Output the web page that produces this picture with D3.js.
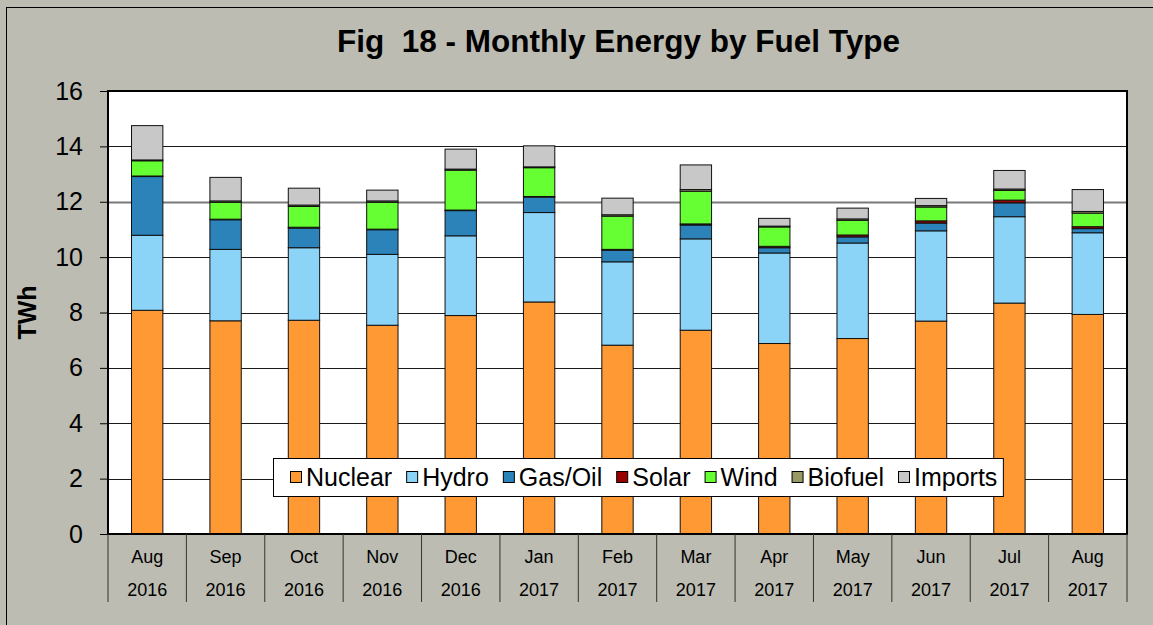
<!DOCTYPE html>
<html>
<head>
<meta charset="utf-8">
<script src="https://cdn.jsdelivr.net/npm/d3@7"></script>
<style>
  body { margin: 0; background: #bcbcb2; }
  svg { display: block; font-family: Arial, "Liberation Sans", sans-serif; }
</style>
</head>
<body>
<svg width="1153" height="625"></svg>
<script>
// Data (TWh)
const months = ["Aug", "Sep", "Oct", "Nov", "Dec", "Jan", "Feb", "Mar", "Apr", "May", "Jun", "Jul", "Aug"];
const years = ["2016", "2016", "2016", "2016", "2016", "2017", "2017", "2017", "2017", "2017", "2017", "2017", "2017"];
const nuclear = [8.08, 7.70, 7.72, 7.54, 7.89, 8.38, 6.82, 7.36, 6.88, 7.06, 7.69, 8.34, 7.93];
const hydro = [2.71, 2.58, 2.62, 2.56, 2.88, 3.23, 3.01, 3.30, 3.27, 3.45, 3.26, 3.12, 2.95];
const gasOil = [2.12, 1.07, 0.71, 0.89, 0.91, 0.56, 0.42, 0.50, 0.19, 0.22, 0.28, 0.50, 0.15];
const solar = [0.02, 0.02, 0.03, 0.02, 0.02, 0.02, 0.03, 0.04, 0.05, 0.07, 0.08, 0.10, 0.07];
const wind = [0.55, 0.61, 0.75, 0.97, 1.44, 1.04, 1.20, 1.18, 0.70, 0.53, 0.50, 0.35, 0.49];
const biofuel = [0.03, 0.05, 0.05, 0.05, 0.04, 0.03, 0.05, 0.06, 0.03, 0.05, 0.05, 0.05, 0.06];
const imports = [1.24, 0.85, 0.61, 0.39, 0.72, 0.76, 0.60, 0.89, 0.28, 0.39, 0.26, 0.67, 0.79];
const yTicks = [0, 2, 4, 6, 8, 10, 12, 14, 16];

const seriesNames = ["Nuclear", "Hydro", "Gas/Oil", "Solar", "Wind", "Biofuel", "Imports"];
const seriesValues = [nuclear, hydro, gasOil, solar, wind, biofuel, imports];
const colors = ["#ff9933", "#8cd3f8", "#2b83ba", "#990000", "#66ff33", "#999966", "#c8c8c8"];

// build rows for d3.stack
const rows = months.map((m, i) => {
    const r = { key: i };
    seriesNames.forEach((s, j) => r[s] = seriesValues[j][i]);
    return r;
});

const svg = d3.select("svg");
const pLeft = 108, pRight = 1127, pTop = 91, pBottom = 534;

// outer frame
svg.append("rect").attr("x", 6.5).attr("y", 7.5).attr("width", 1300).attr("height", 800)
    .attr("fill", "#bcbcb2").attr("stroke", "#000").attr("stroke-width", 1);

// plot area
svg.append("rect").attr("x", pLeft).attr("y", pTop).attr("width", pRight - pLeft).attr("height", pBottom - pTop)
    .attr("fill", "#fff");

const x = d3.scaleBand().domain(d3.range(months.length)).range([pLeft, pRight]).padding(0);
const y = d3.scaleLinear().domain([0, 16]).range([pBottom, pTop]);

// gridlines
svg.append("g").selectAll("line")
    .data(yTicks.filter(t => t > 0 && t < 16))
    .enter().append("line")
    .attr("x1", pLeft).attr("x2", pRight)
    .attr("y1", d => Math.round(y(d)) + 0.5).attr("y2", d => Math.round(y(d)) + 0.5)
    .attr("stroke", d => d === 12 ? "#7a7a7a" : "#1a1a1a")
    .attr("stroke-width", d => d === 12 ? 2 : 1);

// stacked bars
const stack = d3.stack().keys(seriesNames)(rows);
const barW = x.bandwidth() * 0.4;
svg.append("g").selectAll("g")
    .data(stack)
    .enter().append("g")
    .attr("fill", (d, i) => colors[i])
    .selectAll("rect")
    .data(d => d)
    .enter().append("rect")
    .attr("x", (d, i) => x(i) + (x.bandwidth() - barW) / 2)
    .attr("y", d => y(d[1]))
    .attr("width", barW)
    .attr("height", d => y(d[0]) - y(d[1]))
    .attr("stroke", "#111")
    .attr("stroke-width", 1);

// plot border
svg.append("rect").attr("x", pLeft).attr("y", pTop).attr("width", pRight - pLeft).attr("height", pBottom - pTop)
    .attr("fill", "none").attr("stroke", "#000").attr("stroke-width", 2);

// y axis
const yAxis = svg.append("g")
    .attr("transform", `translate(${pLeft},0)`)
    .call(d3.axisLeft(y).tickValues(yTicks).tickSize(8).tickPadding(17));
yAxis.select(".domain").remove();
yAxis.selectAll("line").attr("stroke", "#000");
yAxis.selectAll("text").attr("font-size", 25).attr("fill", "#000")
    .attr("font-family", "Arial, 'Liberation Sans', sans-serif");

// y title
svg.append("text")
    .attr("transform", `translate(36,${(pTop + pBottom) / 2}) rotate(-90)`)
    .attr("text-anchor", "middle")
    .attr("font-size", 25).attr("font-weight", "bold")
    .text("TWh");

// category axis: separators and two-level labels
const cat = svg.append("g");
cat.selectAll(".sep")
    .data(d3.range(months.length + 1))
    .enter().append("line")
    .attr("x1", d => d < months.length ? x(d) : pRight)
    .attr("x2", d => d < months.length ? x(d) : pRight)
    .attr("y1", pBottom).attr("y2", 602)
    .attr("stroke", "#333").attr("stroke-width", 1);
cat.selectAll(".mon")
    .data(months)
    .enter().append("text")
    .attr("x", (d, i) => x(i) + x.bandwidth() / 2)
    .attr("y", 563)
    .attr("text-anchor", "middle")
    .attr("font-size", 18)
    .text(d => d);
cat.selectAll(".yr")
    .data(years)
    .enter().append("text")
    .attr("x", (d, i) => x(i) + x.bandwidth() / 2)
    .attr("y", 596)
    .attr("text-anchor", "middle")
    .attr("font-size", 18)
    .text(d => d);

// title
svg.append("text")
    .attr("x", (pLeft + pRight) / 2 + 1).attr("y", 52)
    .attr("text-anchor", "middle")
    .attr("font-size", 31.5).attr("font-weight", "bold")
    .style("white-space", "pre")
    .text("Fig  18 - Monthly Energy by Fuel Type");

// legend
const legend = svg.append("g");
const legBox = legend.append("rect")
    .attr("x", 273.5).attr("y", 458.5).attr("height", 38)
    .attr("fill", "#fff").attr("stroke", "#000").attr("stroke-width", 1);
let lx = 290;
seriesNames.forEach((s, i) => {
    legend.append("rect")
        .attr("x", lx + 0.5).attr("y", 471.5).attr("width", 11).attr("height", 11)
        .attr("fill", colors[i]).attr("stroke", "#000").attr("stroke-width", 1);
    const t = legend.append("text")
        .attr("x", lx + 16).attr("y", 486)
        .attr("font-size", 25)
        .text(s);
    lx += 16 + t.node().getComputedTextLength() + 14;
});
legBox.attr("width", lx - 14 + 6 - 273.5);
</script>
</body>
</html>
